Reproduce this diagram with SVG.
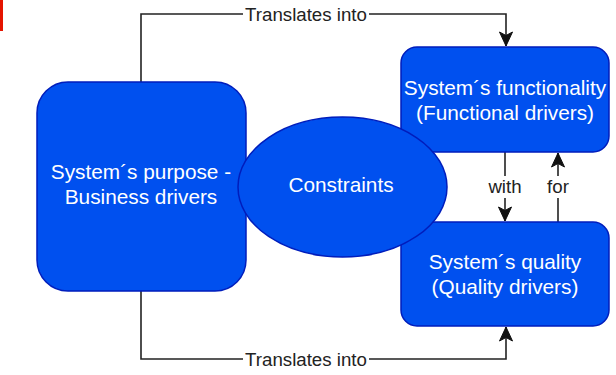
<svg xmlns="http://www.w3.org/2000/svg" width="616" height="375" viewBox="0 0 616 375">
  <style>
    .node { fill: #0050ef; stroke: #001dbc; stroke-width: 1.5; }
    .nlabel { font-family: "Liberation Sans", Arial, sans-serif; font-size: 20.8px; fill: #ffffff; text-anchor: middle; }
    .edge { fill: none; stroke: #222222; stroke-width: 1.6; }
    .elabel { font-family: "Liberation Sans", Arial, sans-serif; font-size: 18.7px; fill: #222222; text-anchor: middle; }
    .bg { fill: #ffffff; }
  </style>
  <defs>
    <marker id="arrow" viewBox="-15 -8 16 16" markerWidth="16" markerHeight="16" refX="0" refY="0" orient="auto" markerUnits="userSpaceOnUse">
      <path d="M0,0 L-14,-6.5 L-10.5,0 L-14,6.5 Z" fill="#111111" stroke="#111111" stroke-width="1" stroke-linejoin="miter"/>
    </marker>
  </defs>
  <rect x="0" y="0" width="3" height="31" fill="#e51400"/>
  <g id="connectors">
    <path class="edge" d="M141,82 V14 H506 V46" marker-end="url(#arrow)"/>
    <rect class="bg" x="243" y="4" width="126" height="20"/>
    <text class="elabel" x="306" y="21">Translates into</text>
    <path class="edge" d="M141,291 V359 H506 V327" marker-end="url(#arrow)"/>
    <rect class="bg" x="243" y="349" width="126" height="21"/>
    <text class="elabel" x="306" y="366">Translates into</text>
    <path class="edge" d="M505,152 V176"/>
    <path class="edge" d="M505,198 V221" marker-end="url(#arrow)"/>
    <text class="elabel" x="505" y="193">with</text>
    <path class="edge" d="M558,222 V198"/>
    <path class="edge" d="M558,176 V153" marker-end="url(#arrow)"/>
    <text class="elabel" x="558" y="193">for</text>
  </g>
  <g id="purpose">
    <rect class="node" x="37" y="82" width="209" height="209" rx="31" ry="31"/>
    <text class="nlabel" x="141" y="179">System´s purpose -</text>
    <text class="nlabel" x="141" y="204">Business drivers</text>
  </g>
  <g id="functionality">
    <rect class="node" x="401" y="47" width="208" height="105" rx="16" ry="16"/>
    <text class="nlabel" x="505" y="95">System´s functionality</text>
    <text class="nlabel" x="505" y="120">(Functional drivers)</text>
  </g>
  <g id="quality">
    <rect class="node" x="401" y="222" width="208" height="104" rx="16" ry="16"/>
    <text class="nlabel" x="505" y="269">System´s quality</text>
    <text class="nlabel" x="505" y="294">(Quality drivers)</text>
  </g>
  <g id="constraints">
    <ellipse class="node" cx="342.5" cy="187" rx="104.5" ry="70"/>
    <text class="nlabel" x="341" y="192">Constraints</text>
  </g>
</svg>
